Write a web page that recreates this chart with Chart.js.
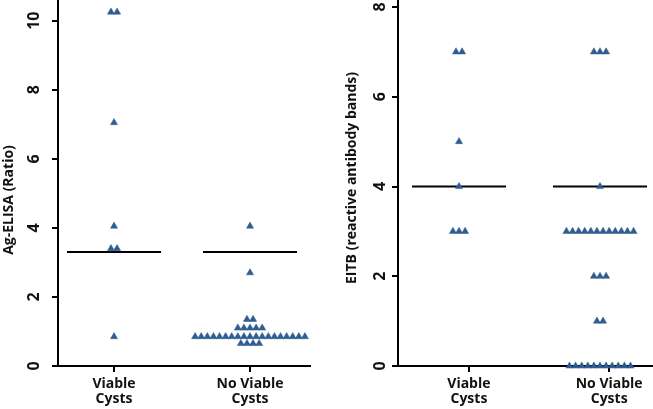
<!DOCTYPE html>
<html><head><meta charset="utf-8">
<script src="https://cdn.jsdelivr.net/npm/chart.js@4"></script>
<style>
html,body{margin:0;padding:0;background:#fff;}
#wrap{position:relative;width:653px;height:409px;overflow:hidden;}
#b1{position:absolute;left:0;top:0;width:330px;height:409px;}
#b2{position:absolute;left:330px;top:0;width:323px;height:409px;}
</style></head><body>
<div id="wrap"><div id="b1"><canvas id="c1" width="330" height="409"></canvas></div><div id="b2"><canvas id="c2" width="323" height="409"></canvas></div></div>
<script>
// ---- data ----
const groups = [['Viable', 'Cysts'], ['No Viable', 'Cysts']];
const elisaTitle = 'Ag-ELISA (Ratio)';
const eitbTitle = 'EITB (reactive antibody bands)';
const elisaTicks = [0, 2, 4, 6, 8, 10];
const eitbTicks = [0, 2, 4, 6, 8];
const elisaViable = [10.25, 10.25, 7.05, 4.05, 3.4, 3.4, 0.85];
const elisaNoViable = [4.05, 2.7, 1.35, 1.35, 1.1, 1.1, 1.1, 1.1, 1.1,
  0.85, 0.85, 0.85, 0.85, 0.85, 0.85, 0.85, 0.85, 0.85, 0.85, 0.85, 0.85, 0.85, 0.85, 0.85, 0.85, 0.85, 0.85, 0.85,
  0.65, 0.65, 0.65, 0.65];
const elisaLines = [3.3, 3.3];
const eitbViable = [7, 7, 5, 4, 3, 3, 3];
const eitbNoViable = [7, 7, 7, 4, 3, 3, 3, 3, 3, 3, 3, 3, 3, 3, 3, 3, 2, 2, 2, 1, 1,
  0, 0, 0, 0, 0, 0, 0, 0, 0, 0, 0];
const eitbLines = [4, 4];

// ---- style ----
const BLUE = '#2f5d91';
const INK = '#111';
const FONT = '"Open Sans", Lato, sans-serif';
const SPREAD_PX = 6.1;
const LINE_HALF_PX = 47;

function swarm(values, center, step) {
  const counts = {};
  values.forEach(v => { counts[v] = (counts[v] || 0) + 1; });
  const seen = {};
  return values.map(v => {
    const n = counts[v];
    const i = seen[v] = (seen[v] === undefined ? 0 : seen[v] + 1);
    return { x: center + (i - (n - 1) / 2) * step, y: v };
  });
}

function makeChart(id, cfg) {
  const areaW = cfg.canvasW - cfg.axisW - cfg.padRight;
  const ppu = areaW / (cfg.xMax - cfg.xMin);
  const step = SPREAD_PX / ppu;
  const half = LINE_HALF_PX / ppu;
  const pts = swarm(cfg.series[0], 1, step).concat(swarm(cfg.series[1], 2, step));
  const lineDs = (c, v) => ({
    data: [{ x: c - half, y: v }, { x: c + half, y: v }],
    showLine: true, pointRadius: 0, borderColor: '#000', borderWidth: 2, clip: false
  });
  const titlePlugin = {
    id: 'ytitle',
    afterDraw(chart) {
      const ctx = chart.ctx;
      ctx.save();
      ctx.font = 'bold 14px ' + FONT;
      ctx.fillStyle = INK;
      ctx.translate(cfg.titleX, cfg.titleY);
      ctx.rotate(-Math.PI / 2);
      ctx.textAlign = 'center';
      ctx.textBaseline = 'middle';
      ctx.fillText(cfg.title, 0, 0);
      ctx.restore();
    }
  };
  const gridOpt = { drawOnChartArea: false, drawTicks: true, tickLength: 6, color: '#000', lineWidth: 2 };
  return new Chart(document.getElementById(id), {
    type: 'scatter',
    data: {
      datasets: [
        { data: pts, pointStyle: 'triangle', pointRadius: 4.1, backgroundColor: BLUE, borderColor: BLUE, borderWidth: 0.5, clip: false },
        lineDs(1, cfg.lines[0]),
        lineDs(2, cfg.lines[1])
      ]
    },
    options: {
      responsive: false, animation: false, devicePixelRatio: 1,
      layout: { autoPadding: false, padding: { left: 0, right: cfg.padRight, top: 0, bottom: 0 } },
      plugins: { legend: { display: false }, tooltip: { enabled: false } },
      scales: {
        x: {
          type: 'linear', min: cfg.xMin, max: cfg.xMax,
          afterBuildTicks: s => { s.ticks = cfg.tickPos.map(v => ({ value: v })); },
          afterFit: s => { s.height = 43; s.paddingLeft = 0; s.paddingRight = 0; },
          ticks: { callback: (v, i) => groups[i], autoSkip: false, maxRotation: 0, minRotation: 0,
                   padding: 5, color: INK, font: { family: FONT, size: 14, weight: 'bold', lineHeight: 1.07 } },
          grid: gridOpt, border: { color: '#000', width: 2 }
        },
        y: {
          min: 0, max: cfg.yMax,
          afterBuildTicks: s => { s.ticks = cfg.yTicks.map(v => ({ value: v })); },
          afterFit: s => { s.width = cfg.axisW; s.paddingTop = 0; s.paddingBottom = 0; },
          ticks: { minRotation: 90, maxRotation: 90, crossAlign: 'center', padding: cfg.tickPad,
                   color: INK, font: { family: FONT, size: 16, weight: 'bold' } },
          grid: gridOpt, border: { color: '#000', width: 2 }
        }
      }
    },
    plugins: [titlePlugin]
  });
}

makeChart('c1', {
  canvasW: 330, axisW: 58, padRight: 20, xMin: 0.588, xMax: 2.441,
  tickPos: [1, 2], yMax: 10.6, yTicks: elisaTicks, tickPad: 8,
  series: [elisaViable, elisaNoViable], lines: elisaLines,
  title: elisaTitle, titleX: 9, titleY: 200
});
makeChart('c2', {
  canvasW: 323, axisW: 68, padRight: 0, xMin: 0.567, xMax: 2.376,
  tickPos: [1.07, 2.065], yMax: 8.156, yTicks: eitbTicks, tickPad: 7,
  series: [eitbViable, eitbNoViable], lines: eitbLines,
  title: eitbTitle, titleX: 22, titleY: 178
});
</script>
</body></html>
